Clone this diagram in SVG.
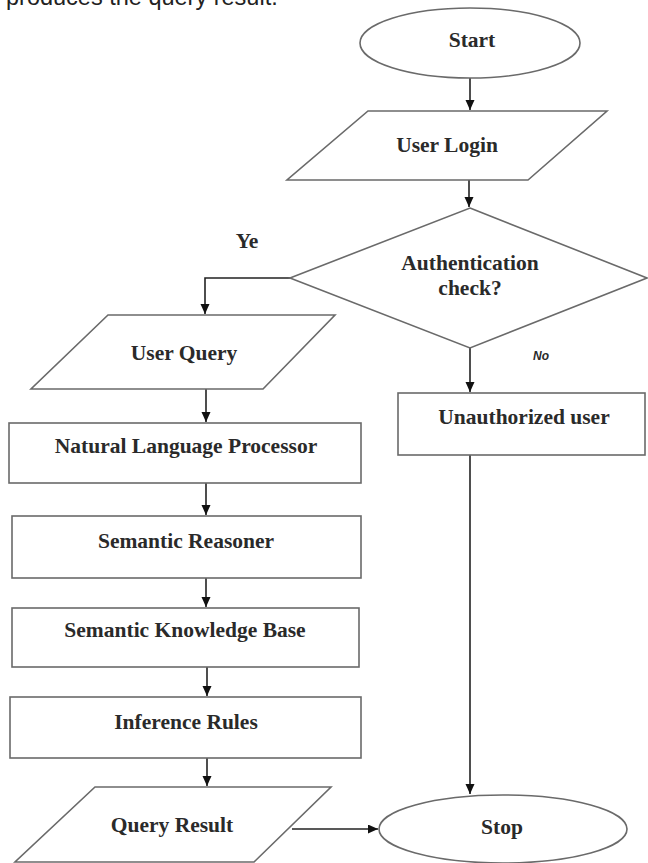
<svg xmlns="http://www.w3.org/2000/svg" width="648" height="863" viewBox="0 0 648 863">
<style>
.shape{fill:#fff;stroke:#6a6a6a;stroke-width:1.6}
.conn{fill:none;stroke:#222;stroke-width:1.6}
.lbl{font-family:"Liberation Serif","Times New Roman",serif;font-weight:bold;font-size:21.5px;fill:#2a2a2a;text-anchor:middle}
.small{font-family:"Liberation Sans",Arial,sans-serif;font-weight:bold;font-style:italic;font-size:12px;fill:#2a2a2a}
.cap{font-family:"Liberation Sans",Arial,sans-serif;font-size:23.5px;fill:#222}
</style>
<defs>
<marker id="arr" markerUnits="userSpaceOnUse" markerWidth="11" markerHeight="10" refX="10" refY="4.5" orient="auto">
<path d="M0,0 L10,4.5 L0,9 z" fill="#111"/>
</marker>
</defs>
<rect width="648" height="863" fill="#fff"/>
<text class="cap" x="6" y="5">produces the query result.</text>
<g id="connectors">
<path class="conn" d="M470,78 V110" marker-end="url(#arr)"/>
<path class="conn" d="M469,180 V207" marker-end="url(#arr)"/>
<path class="conn" d="M290,278 H205 V314" marker-end="url(#arr)"/>
<path class="conn" d="M470,348 V392" marker-end="url(#arr)"/>
<path class="conn" d="M206,389 V422" marker-end="url(#arr)"/>
<path class="conn" d="M206,483 V515" marker-end="url(#arr)"/>
<path class="conn" d="M206,578 V607" marker-end="url(#arr)"/>
<path class="conn" d="M207,667 V696" marker-end="url(#arr)"/>
<path class="conn" d="M207,758 V786" marker-end="url(#arr)"/>
<path class="conn" d="M470,455 V794" marker-end="url(#arr)"/>
<path class="conn" d="M292,829 H378" marker-end="url(#arr)"/>
</g>
<g id="start">
<ellipse class="shape" cx="470" cy="43" rx="110" ry="35"/>
<text class="lbl" x="472" y="47">Start</text>
</g>
<g id="user-login">
<polygon class="shape" points="368,111 607,111 528,180 287,180"/>
<text class="lbl" x="447" y="152">User Login</text>
</g>
<g id="auth-check">
<polygon class="shape" points="470,208 647,278 470,348 290,278"/>
<text class="lbl" x="470" y="270">Authentication</text>
<text class="lbl" x="470" y="295">check?</text>
</g>
<g id="label-yes">
<text class="lbl" x="247" y="248">Ye</text>
</g>
<g id="label-no">
<text class="small" x="533" y="360">No</text>
</g>
<g id="user-query">
<polygon class="shape" points="108,315 335,315 263,389 31,389"/>
<text class="lbl" x="184" y="360">User Query</text>
</g>
<g id="nlp">
<rect class="shape" x="9" y="423" width="352" height="60"/>
<text class="lbl" x="186" y="453">Natural Language Processor</text>
</g>
<g id="unauthorized">
<rect class="shape" x="398" y="393" width="247" height="62"/>
<text class="lbl" x="524" y="424">Unauthorized user</text>
</g>
<g id="semantic-reasoner">
<rect class="shape" x="12" y="516" width="349" height="62"/>
<text class="lbl" x="186" y="548">Semantic Reasoner</text>
</g>
<g id="knowledge-base">
<rect class="shape" x="12" y="608" width="347" height="59"/>
<text class="lbl" x="185" y="637">Semantic Knowledge Base</text>
</g>
<g id="inference-rules">
<rect class="shape" x="10" y="697" width="351" height="61"/>
<text class="lbl" x="186" y="729">Inference Rules</text>
</g>
<g id="query-result">
<polygon class="shape" points="95,787 331,787 254,862 15,862"/>
<text class="lbl" x="172" y="832">Query Result</text>
</g>
<g id="stop">
<ellipse class="shape" cx="503" cy="829" rx="124" ry="34"/>
<text class="lbl" x="502" y="834">Stop</text>
</g>
</svg>
